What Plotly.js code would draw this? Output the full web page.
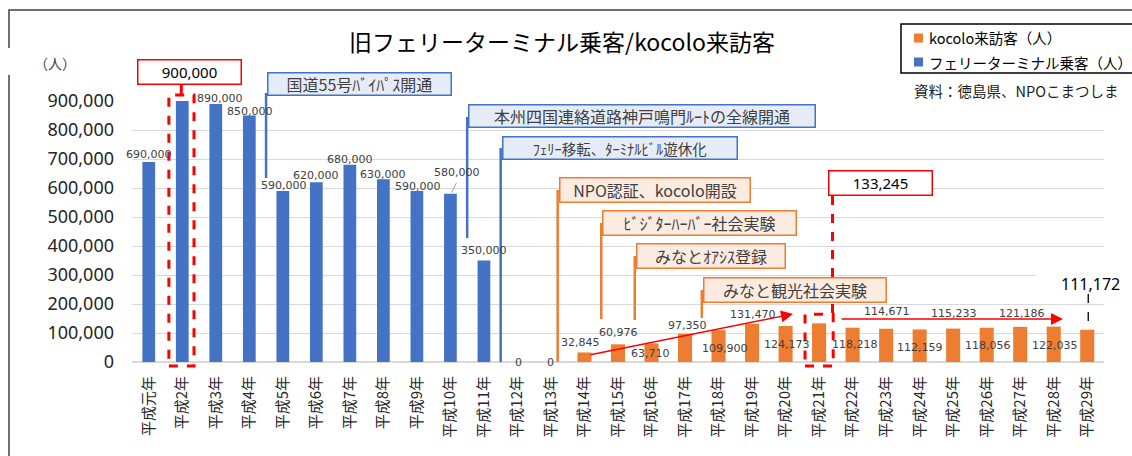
<!DOCTYPE html>
<html><head><meta charset="utf-8">
<script src="https://cdn.plot.ly/plotly-3.0.1.min.js"></script>
<style>html,body{margin:0;padding:0;background:#fff;}#chart{width:1132px;height:456px;}</style>
</head><body><div id="chart"></div>
<script>
// ---- data ----
const years = ["平成元年","平成2年","平成3年","平成4年","平成5年","平成6年","平成7年","平成8年","平成9年","平成10年",
  "平成11年","平成12年","平成13年","平成14年","平成15年","平成16年","平成17年","平成18年","平成19年","平成20年",
  "平成21年","平成22年","平成23年","平成24年","平成25年","平成26年","平成27年","平成28年","平成29年"];
const ferryPassengers = [690000,900000,890000,850000,590000,620000,680000,630000,590000,580000,
  350000,0,0,null,null,null,null,null,null,null,null,null,null,null,null,null,null,null,null];
const kocoloVisitors = [null,null,null,null,null,null,null,null,null,null,null,null,null,
  32845,60976,63710,97350,109900,131470,124173,133245,118218,114671,112159,115233,118056,121186,122035,111172];
const seriesNames = ["kocolo来訪客（人）","フェリーターミナル乗客（人）"];
const chartTitle = "旧フェリーターミナル乗客/kocolo来訪客";
const yUnit = "（人）";
const sourceNote = "資料：徳島県、NPOこまつしま";
const yTicks = [0,100000,200000,300000,400000,500000,600000,700000,800000,900000];
const blueNotes = ["国道55号ﾊﾞｲﾊﾟｽ開通","本州四国連絡道路神戸鳴門ﾙｰﾄの全線開通","ﾌｪﾘｰ移転、ﾀｰﾐﾅﾙﾋﾞﾙ遊休化"];
const orangeNotes = ["NPO認証、kocolo開設","ﾋﾞｼﾞﾀｰﾊｰﾊﾞｰ社会実験","みなとｵｱｼｽ登録","みなと観光社会実験"];
const highlightFerryIdx = 1;   // 平成2年
const highlightKocoloIdx = 20; // 平成21年
const lastIdx = 28;            // 平成29年

// ---- layout helpers (positions/styles) ----
const CW = 1132, CH = 456;
const L = 132, T = 101, W = 972, H = 261, N = years.length, YMAX = 900000;
const px2x = p => (p - L) / W;
const px2y = p => (T + H - p) / H;
const catX = i => L + (i + 0.5) * W / N;
const valY = v => T + H - v / YMAX * H;
const BLUE = "#4472C4", ORANGE = "#ED7D31", RED = "#FF0000";
const JP = "Noto Sans CJK JP";

// label offsets [dx, dy] in px relative to bar top (null = no plain label)
const labelOffsets = [[0,7],null,[4,5],[1,4],[1,5],[0,7],[0,5],[0,5],[1,4],[7,21],[0,10],[1,0],[0,0],
  [-4,10],[0,12],[-1,-10],[2,8],[6,-18],[1,9],[1,-19],null,[2,-17],[1,17],[0,-18],[1,15],[1,-18],[2,13],[1,-19],null];

const fmt = v => v.toLocaleString("en-US");
const annotations = [];
const shapes = [];

// data labels
years.forEach((yr, i) => {
  const off = labelOffsets[i];
  if (!off) return;
  const v = ferryPassengers[i] != null ? ferryPassengers[i] : kocoloVisitors[i];
  annotations.push({x: yr, y: v, xref: "x", yref: "y", text: fmt(v), showarrow: false,
    xshift: off[0], yshift: off[1], xanchor: "center", yanchor: "middle",
    font: {family: "DejaVu Sans", size: 11, color: "#404040"}});
});
// last value label (larger)
annotations.push({x: years[lastIdx], y: kocoloVisitors[lastIdx], xref: "x", yref: "y", text: fmt(kocoloVisitors[lastIdx]),
  showarrow: false, xshift: 3, yshift: 46, xanchor: "center", yanchor: "middle", font: {family: "Noto Sans", size: 16, color: "#000"}});
shapes.push({type: "line", xref: "paper", yref: "paper", x0: px2x(catX(lastIdx) + 1), x1: px2x(catX(lastIdx) + 1),
  y0: px2y(294), y1: px2y(326), line: {color: "#000", width: 1.3, dash: "dash"}});
// leader line for 580,000
shapes.push({type: "line", xref: "paper", yref: "paper", x0: px2x(catX(9) + 1), y0: px2y(valY(ferryPassengers[9]) - 1),
  x1: px2x(catX(9) + 6), y1: px2y(valY(ferryPassengers[9]) - 11), line: {color: "#A6A6A6", width: 1}});

// white covers (chart-object backgrounds hiding gridlines)
shapes.push({type: "rect", xref: "paper", yref: "paper", layer: "above", x0: px2x(890), x1: px2x(1106), y0: px2y(104), y1: px2y(96), fillcolor: "#fff", line: {width: 0}});
shapes.push({type: "rect", xref: "paper", yref: "paper", layer: "above", x0: px2x(1037), x1: px2x(1106), y0: px2y(278), y1: px2y(272), fillcolor: "#fff", line: {width: 0}});

function callout(text, idx, top, w, h, lTop, lBot, fs, col, bg) {
  const x0 = catX(idx) + 1;
  annotations.push({xref: "paper", yref: "paper", x: px2x(x0 + w / 2), y: px2y(top + h / 2), text: text, showarrow: false,
    width: w - 3, height: h - 3, bgcolor: bg, bordercolor: col, borderwidth: 1.5, borderpad: 0,
    xanchor: "center", yanchor: "middle", font: {family: JP, size: fs, color: "#404040"}});
  shapes.push({type: "line", xref: "paper", yref: "paper", x0: px2x(x0 - 1), x1: px2x(x0 - 1), y0: px2y(lTop), y1: px2y(lBot),
    line: {color: col, width: 2.5}});
}
const blueBg = "#E6ECF7", orangeBg = "#FBEBE0";
callout(blueNotes[0], 3.5, 72, 185, 24, 93, 178, 16, BLUE, blueBg);
callout(blueNotes[1], 9.5, 104, 348, 24, 117, 238, 16, BLUE, blueBg);
callout(blueNotes[2], 10.5, 136, 236, 24, 148, valY(0), 14.5, BLUE, blueBg);
callout(orangeNotes[0], 12.2, 177, 192, 26, 190, valY(0), 16, ORANGE, orangeBg);
callout(orangeNotes[1], 13.5, 210, 195, 26, 223, 319, 16, ORANGE, orangeBg);
callout(orangeNotes[2], 14.5, 243, 150, 26, 256, 320, 16, ORANGE, orangeBg);
callout(orangeNotes[3], 16.5, 277, 184, 26, 290, 318, 16, ORANGE, orangeBg);

function redBox(text, cx, top) {
  annotations.push({xref: "paper", yref: "paper", x: px2x(cx), y: px2y(top + 13), text: text, showarrow: false,
    width: 102, height: 23, bgcolor: "#fff", bordercolor: RED, borderwidth: 1.5, borderpad: 0,
    xanchor: "center", yanchor: "middle", font: {family: "Noto Sans", size: 15, color: "#000"}});
}
redBox(fmt(ferryPassengers[highlightFerryIdx]), 189.5, 59);
shapes.push({type: "rect", xref: "paper", yref: "paper", x0: px2x(catX(highlightFerryIdx - 0.4)), x1: px2x(catX(highlightFerryIdx + 0.35)),
  y0: px2y(366), y1: px2y(valY(ferryPassengers[highlightFerryIdx]) - 6), line: {color: RED, width: 3, dash: "dash"}});
shapes.push({type: "line", xref: "paper", yref: "paper", x0: px2x(catX(highlightFerryIdx) - 1), x1: px2x(catX(highlightFerryIdx) - 1),
  y0: px2y(85), y1: px2y(valY(ferryPassengers[highlightFerryIdx]) - 6), line: {color: RED, width: 3}});
redBox(fmt(kocoloVisitors[highlightKocoloIdx]), 880.5, 170);
shapes.push({type: "rect", xref: "paper", yref: "paper", x0: px2x(catX(highlightKocoloIdx - 0.42)), x1: px2x(catX(highlightKocoloIdx + 0.42)),
  y0: px2y(366), y1: px2y(valY(kocoloVisitors[highlightKocoloIdx]) - 9), line: {color: RED, width: 3, dash: "dash"}});
shapes.push({type: "line", xref: "paper", yref: "paper", x0: px2x(catX(highlightKocoloIdx + 0.4)), x1: px2x(catX(highlightKocoloIdx + 0.4)),
  y0: px2y(196), y1: px2y(valY(kocoloVisitors[highlightKocoloIdx]) - 9), line: {color: RED, width: 3, dash: "dash"}});

// trend arrows
annotations.push({xref: "paper", yref: "paper", x: px2x(793), y: px2y(314), ax: -204, ay: 41, text: "", showarrow: true,
  arrowhead: 2, arrowsize: 1.6, arrowwidth: 1.5, arrowcolor: RED});
annotations.push({xref: "paper", yref: "paper", x: px2x(1063), y: px2y(319), ax: -223, ay: 0, text: "", showarrow: true,
  arrowhead: 2, arrowsize: 1.6, arrowwidth: 1.5, arrowcolor: RED});

annotations.push({xref: "paper", yref: "paper", x: px2x(55), y: px2y(63), xanchor: "center", yanchor: "middle", text: yUnit, showarrow: false,
  font: {family: JP, size: 14, color: "#404040"}});
annotations.push({xref: "paper", yref: "paper", x: px2x(912), y: px2y(90), xanchor: "left", yanchor: "middle", text: sourceNote, showarrow: false,
  font: {family: JP, size: 14.5, color: "#1a1a1a"}});

// legend box (drawn by hand so it sits exactly where the reference has it)
shapes.push({type: "rect", xref: "paper", yref: "paper", layer: "above", x0: px2x(901), x1: px2x(1160), y0: px2y(73), y1: px2y(24),
  fillcolor: "#fff", line: {color: "#000", width: 1.5}});
const legendColors = [ORANGE, BLUE];
const legendRowsY = [38, 62];
seriesNames.forEach((nm, k) => {
  const cy = legendRowsY[k];
  shapes.push({type: "rect", xref: "paper", yref: "paper", layer: "above", x0: px2x(914), x1: px2x(923), y0: px2y(cy + 4.5), y1: px2y(cy - 4.5),
    fillcolor: legendColors[k], line: {width: 0}});
  annotations.push({xref: "paper", yref: "paper", x: px2x(927), y: px2y(cy), xanchor: "left", yanchor: "middle", text: nm, showarrow: false,
    font: {family: JP, size: 14.5, color: "#000"}});
});

// outer frame
shapes.push({type: "rect", xref: "paper", yref: "paper", x0: px2x(9), x1: px2x(1160), y0: px2y(480), y1: px2y(10),
  line: {color: "#404040", width: 1.5}, layer: "below"});
shapes.push({type: "rect", xref: "paper", yref: "paper", layer: "above", x0: px2x(0), x1: px2x(30), y0: px2y(75), y1: px2y(48), fillcolor: "#fff", line: {width: 0}});

const data = [
  {type: "bar", name: seriesNames[0], x: years, y: kocoloVisitors, marker: {color: ORANGE}, width: 0.42, hoverinfo: "x+y"},
  {type: "bar", name: seriesNames[1], x: years, y: ferryPassengers, marker: {color: BLUE}, width: 0.38, hoverinfo: "x+y"}
];

const layout = {
  width: CW, height: CH,
  margin: {l: L, r: CW - L - W, t: T, b: CH - T - H, autoexpand: false},
  paper_bgcolor: "#fff", plot_bgcolor: "#fff",
  barmode: "overlay",
  title: {text: chartTitle, x: 562 / CW, xanchor: "center", y: 1 - 43 / CH, yanchor: "middle",
    font: {family: JP, size: 23, color: "#000"}},
  xaxis: {type: "category", range: [-0.5, N - 0.5], autorange: false, tickangle: -90, showgrid: false, showline: false, ticks: "", automargin: false,
    tickfont: {family: JP, size: 15, color: "#262626"}, ticklabelstandoff: 10},
  yaxis: {range: [0, YMAX], autorange: false, tickvals: yTicks, tickformat: ",", showgrid: true, gridcolor: "#D9D9D9", gridwidth: 1,
    zeroline: true, zerolinecolor: "#D9D9D9", zerolinewidth: 1.5, ticks: "", showline: false, automargin: false,
    tickfont: {family: "Noto Sans", size: 18, color: "#262626"}, ticklabelstandoff: 17},
  showlegend: false,
  annotations: annotations,
  shapes: shapes
};
Plotly.newPlot("chart", data, layout, {displayModeBar: false, responsive: false});
</script></body></html>
